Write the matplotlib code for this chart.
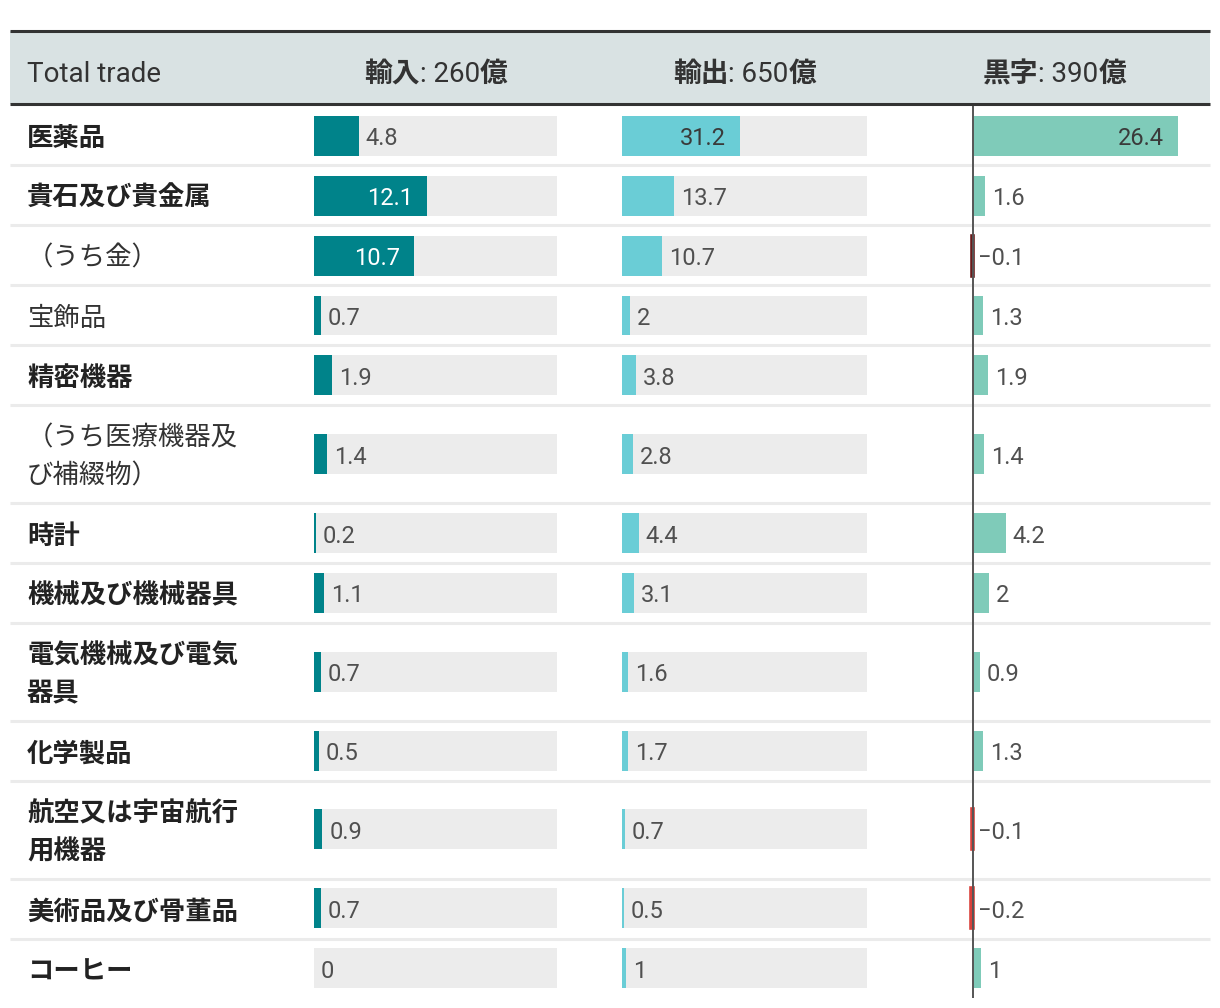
import matplotlib.pyplot as plt
from matplotlib.patches import Rectangle

# データ（単位: 億, 表示値はそのまま）
categories = ['医薬品', '貴石及び貴金属', '（うち金）', '宝飾品', '精密機器',
              '（うち医療機器及\nび補綴物）', '時計', '機械及び機械器具',
              '電気機械及び電気\n器具', '化学製品', '航空又は宇宙航行\n用機器',
              '美術品及び骨董品', 'コーヒー']
sub_item = [False, False, True, True, False, True, False, False, False, False, False, False, False]
imports = [4.8, 12.1, 10.7, 0.7, 1.9, 1.4, 0.2, 1.1, 0.7, 0.5, 0.9, 0.7, 0]
exports = [31.2, 13.7, 10.7, 2, 3.8, 2.8, 4.4, 3.1, 1.6, 1.7, 0.7, 0.5, 1]
surplus = [26.4, 1.6, -0.1, 1.3, 1.9, 1.4, 4.2, 2, 0.9, 1.3, -0.1, -0.2, 1]
header_names = ['輸入', '輸出', '黒字']
header_totals = [260, 650, 390]

CJK = ['Noto Sans CJK JP', 'DejaVu Sans']
NUM = ['Roboto', 'Noto Sans CJK JP', 'DejaVu Sans']

W, H = 1220, 1008
fig = plt.figure(figsize=(W / 100, H / 100), dpi=100)

# 背景用の軸（ピクセル座標）
bg = fig.add_axes([0, 0, 1, 1])
bg.set_xlim(0, W)
bg.set_ylim(H, 0)
bg.axis('off')

top, bottom = 106, 998
bg.add_patch(Rectangle((10, 31), 1200, 104 - 31, facecolor='#d9e2e3', edgecolor='none'))
bg.hlines([31, 104], 10, 1210, color='#333333', lw=2.2)

# 行の高さ
row_h = [60 if c.count('\n') == 0 else 98 for c in categories]
row_top = []
y = 0
for h in row_h:
    row_top.append(y)
    y += h
total_h = y
centers = [t + h / 2 for t, h in zip(row_top, row_h)]

for t in row_top[1:]:
    bg.hlines(top + t - 1, 10, 1210, color='#ebebeb', lw=2.2)

for c, yc, sub in zip(categories, centers, sub_item):
    bg.text(27, top + yc + 2, c, va='center', ha='left', fontsize=19,
            family=CJK, fontweight='normal' if sub else 'bold',
            style='italic' if sub else 'normal',
            color='#333333' if sub else '#222222', linespacing=1.55)

# ヘッダー
bg.text(27, 82, 'Total trade', family=NUM, fontsize=20, color='#333333', va='baseline')
for name, tot, x0 in zip(header_names, header_totals, [364, 673, 983]):
    t1 = bg.text(x0, 82, name, family=CJK, fontweight='bold', fontsize=20,
                 color='#333333', va='baseline')
    t2 = bg.annotate(f': {tot}', xy=(1, 82), xycoords=(t1, 'data'), family=NUM,
                     fontsize=20, color='#333333', va='baseline')
    bg.annotate('億', xy=(1, 82), xycoords=(t2, 'data'), family=CJK, fontweight='bold',
                fontsize=20, color='#333333', va='baseline')


def bar_axes(x0, x1):
    ax = fig.add_axes([x0 / W, 1 - bottom / H, (x1 - x0) / W, (bottom - top) / H])
    ax.set_ylim(total_h, 0)
    ax.axis('off')
    return ax


def fmt(v):
    return f'{v:g}'.replace('-', '\u2212')


def labels(ax, values, px_per_unit, inside_color):
    for v, yc in zip(values, centers):
        w = abs(v) * px_per_unit
        if w > 80:
            ax.annotate(fmt(v), xy=(v, yc), xytext=(-14, -3), textcoords='offset pixels',
                        ha='right', va='center', family=NUM, fontsize=17,
                        color=inside_color)
        else:
            pad = 5 if v < 0 else 7
            ax.annotate(fmt(v), xy=(max(v, 0), yc), xytext=(pad, -3), textcoords='offset pixels',
                        ha='left', va='center', family=NUM, fontsize=17,
                        color='#505050')


# 輸入
ax_i = bar_axes(314, 557)
ax_i.set_xlim(0, header_totals[0] / 10)
ax_i.barh(centers, [header_totals[0] / 10] * len(centers), height=40, color='#ececec')
ax_i.barh(centers, imports, height=40, color='#00838a')
labels(ax_i, imports, 243 / (header_totals[0] / 10), 'white')

# 輸出
ax_e = bar_axes(622, 867)
ax_e.set_xlim(0, header_totals[1] / 10)
ax_e.barh(centers, [header_totals[1] / 10] * len(centers), height=40, color='#ececec')
ax_e.barh(centers, exports, height=40, color='#6acdd6')
labels(ax_e, exports, 245 / (header_totals[1] / 10), '#3a3a3a')

# 黒字
ppu = 7.77
ax_s = bar_axes(940, 1210)
ax_s.set_xlim(-33 / ppu, 237 / ppu)
pos_y = [yc for v, yc in zip(surplus, centers) if v >= 0]
pos_v = [v for v in surplus if v >= 0]
neg_y = [yc for v, yc in zip(surplus, centers) if v < 0]
neg_v = [v for v in surplus if v < 0]
neg_c = ['#6b1a1a' if sub else '#d9403a' for v, sub in zip(surplus, sub_item) if v < 0]
ax_s.barh(pos_y, pos_v, height=40, color='#7fcbb9')
ax_s.barh(neg_y, neg_v, height=40, color=neg_c, edgecolor=neg_c, linewidth=2.6)
ax_s.axvline(0, color='#555555', lw=1.4)
labels(ax_s, surplus, ppu, '#3a3a3a')

fig.savefig('out.png', dpi=100)
